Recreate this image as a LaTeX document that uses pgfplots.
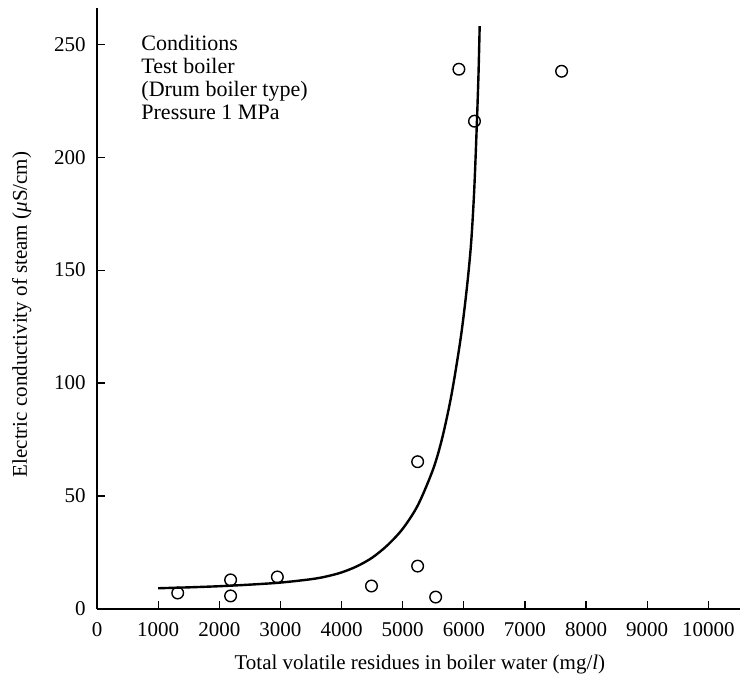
\documentclass[border=0pt]{standalone}
\usepackage{fontspec}
\setmainfont{Liberation Serif}
\usepackage{pgfplots}
\pgfplotsset{compat=1.18}
\begin{document}
\fontsize{10.5}{12.6}\selectfont
\begin{tikzpicture}
\begin{axis}[
  scale only axis,
  width=321.5pt, height=300.5pt,
  xmin=0, xmax=10520, ymin=0, ymax=266,
  axis lines=left,
  axis line style={-, line width=0.8pt},
  clip=false,
  xtick={0,1000,...,10000},
  ytick={0,50,...,250},
  tick align=inside,
  major tick length=4pt,
  tick style={black, line width=0.6pt},
  /pgf/number format/assume math mode=true,
  /pgf/number format/1000 sep={},
  scaled x ticks=false,
  xticklabel style={yshift=-3pt},
  yticklabel style={xshift=-2pt},
  xlabel={Total volatile residues in boiler water (mg/\textit{l})},
  ylabel={Electric conductivity of steam (\textit{μ}S/cm)},
  xlabel style={at={(axis description cs:0.502,-0.093)}, anchor=center},
  ylabel style={at={(axis description cs:-0.117,0.49)}, anchor=center},
]
\addplot[only marks, mark=o, mark size=2.9pt, mark options={line width=0.7pt, black}] coordinates {
  (1320,7.1) (2185,12.9) (2185,5.8) (2950,14.2) (4490,10.2)
  (5245,65.2) (5245,19.0) (5540,5.3) (5920,238.9) (6175,215.9) (7600,238.0)
};
\addplot[black, line width=1.2pt, smooth, tension=0.5] coordinates {
  (1000,9.2) (1500,9.6) (2000,10.1) (2500,10.8) (3000,11.7) (3500,13.2)
  (3750,14.4) (4000,16.2) (4250,18.9) (4500,22.7) (4750,28.2) (5000,35.5) (5250,46)
  (5500,62) (5650,76) (5800,95) (5950,120) (6050,142) (6120,162)
  (6170,185) (6210,212) (6240,236) (6260,258)
};
\node[anchor=north west, align=left, inner sep=0pt, font=\fontsize{11}{11.4}\selectfont] at (axis cs:720,254) {Conditions\\Test boiler\\(Drum boiler type)\\Pressure 1 MPa};
\coordinate (bl) at (rel axis cs:-0.1509,-0.1265);
\coordinate (tr) at (rel axis cs:1.003,1.0133);
\end{axis}
\pgfresetboundingbox
\path (bl) rectangle (tr);
\end{tikzpicture}
\end{document}
